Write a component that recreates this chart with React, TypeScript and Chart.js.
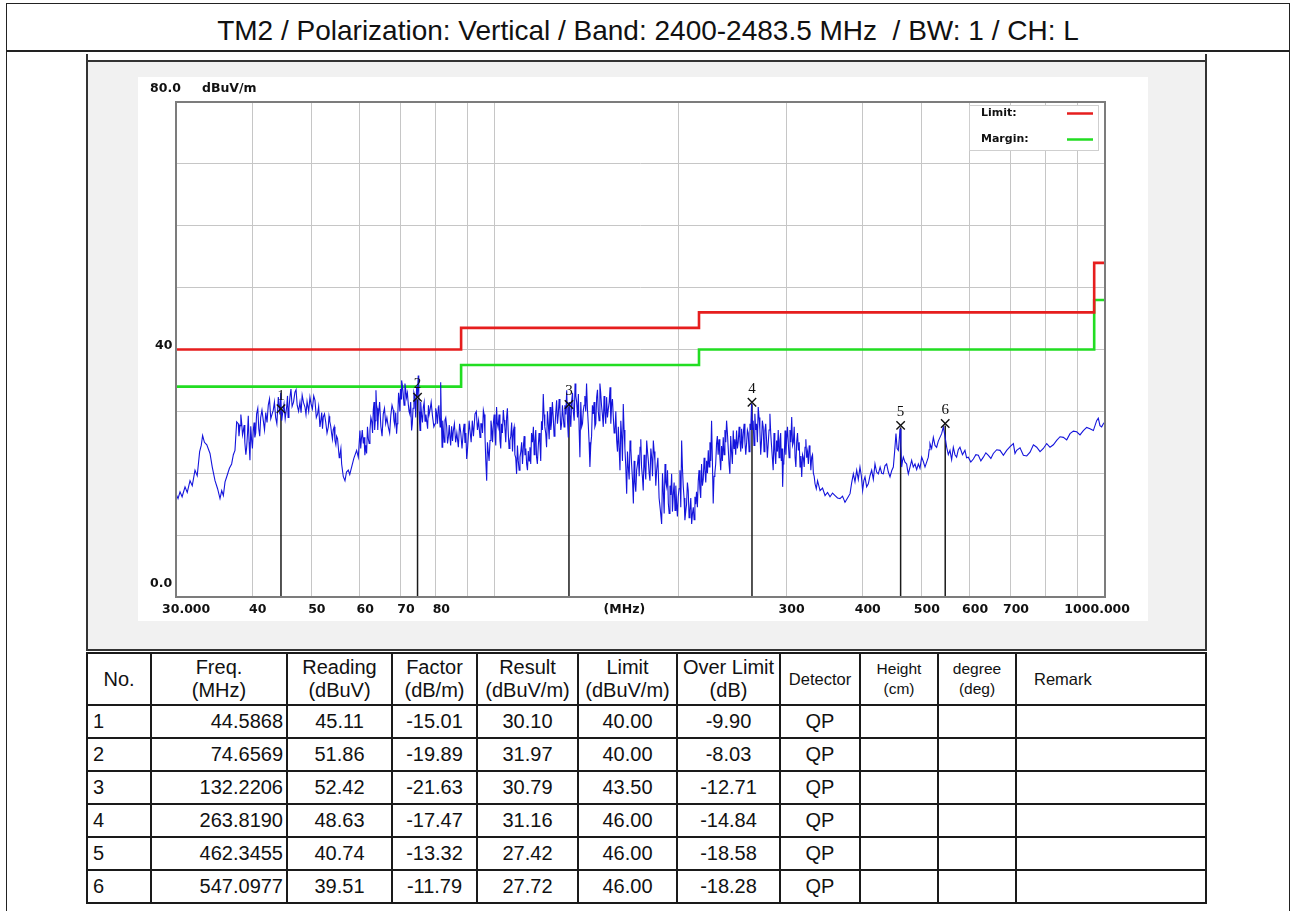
import React, { useEffect, useRef } from 'react';
import { Chart, registerables } from 'chart.js';

Chart.register(...registerables);

const TITLE = 'TM2 / Polarization: Vertical / Band: 2400-2483.5 MHz  / BW: 1 / CH: L';

const yUnit = 'dBuV/m';
const xUnit = '(MHz)';
const xUnitAt = 163;
const gridFreqs = [30, 40, 50, 60, 70, 80, 90, 100, 200, 300, 400, 500, 600, 700, 800, 900, 1000];
const xLabelFreqs = [30, 40, 50, 60, 70, 80, 300, 400, 500, 600, 700, 1000];
const xLabelTexts = ['30.000', '40', '50', '60', '70', '80', '300', '400', '500', '600', '700', '1000.000'];
const yLabelValues = [80, 40, 0];
const yLabelTexts = ['80.0', '40', '0.0'];

const limitFreqs = [30, 88, 216, 960, 1000];
const limitLevels = [40, 43.5, 46, 54, 54];
const marginLevels = [34, 37.5, 40, 48, 48];

// measured trace: [frequency MHz, level dBuV/m]
const trace: [number, number][] = [
  [30.0, 16.7], [30.23, 15.9], [30.46, 17.0], [30.7, 16.2], [31.04, 17.8], [31.3, 16.9], [31.63, 18.8], [31.9, 18.0],
  [32.23, 20.5], [32.5, 19.6], [32.8, 23.5], [33.0, 24.5], [33.17, 26.1], [33.4, 25.0], [33.7, 24.6], [34.11, 23.2],
  [34.4, 21.0], [34.76, 18.8], [35.1, 17.5], [35.42, 15.9], [35.65, 17.2], [35.87, 16.4], [36.1, 18.6], [36.32, 19.4],
  [36.7, 20.8], [37.01, 21.5], [37.25, 23.0], [37.48, 23.7], [37.72, 28.3], [37.95, 28.0], [38.2, 27.7], [38.45, 28.0],
  [38.68, 26.9], [38.9, 25.0], [39.17, 24.2], [39.41, 29.3], [39.66, 22.1], [39.9, 25.5], [40.16, 26.9], [40.4, 25.8],
  [40.67, 29.6], [41.0, 27.2], [41.3, 29.0], [41.71, 28.5], [42.1, 29.8], [42.5, 31.0], [42.9, 28.8], [43.31, 30.2],
  [43.7, 29.0], [44.14, 32.3], [44.4, 29.5], [44.7, 28.5], [45.1, 31.2], [45.55, 30.7], [45.8, 29.0], [46.12, 32.3],
  [46.5, 30.8], [47.0, 33.1], [47.4, 31.0], [47.9, 31.5], [48.3, 32.6], [48.81, 30.7], [49.2, 31.6], [49.74, 32.3],
  [50.2, 30.4], [50.69, 31.8], [51.2, 29.6], [51.65, 27.5], [52.0, 29.8], [52.31, 29.1], [52.8, 28.2], [53.31, 27.5],
  [53.6, 28.4], [53.98, 26.4], [54.3, 27.0], [54.66, 25.3], [55.0, 26.0], [55.36, 24.2], [55.7, 23.0], [56.06, 21.5],
  [56.4, 19.5], [56.77, 18.8], [57.1, 20.2], [57.48, 20.5], [57.8, 19.8], [58.21, 21.0], [58.7, 22.4], [59.32, 23.7],
  [59.7, 22.6], [60.07, 26.9], [60.4, 25.5], [60.83, 24.8], [61.2, 22.9], [61.6, 23.2], [62.0, 25.6], [62.38, 26.9],
  [62.8, 28.4], [63.17, 30.2], [63.5, 27.0], [63.81, 33.4], [64.1, 30.5], [64.37, 29.1], [65.0, 27.6], [65.6, 29.6],
  [66.2, 28.0], [66.85, 27.5], [67.5, 29.4], [68.12, 30.2], [68.5, 27.8], [68.98, 26.4], [69.3, 29.5], [69.68, 31.8],
  [70.0, 33.6], [70.3, 35.0], [70.7, 33.0], [71.19, 34.5], [71.6, 32.2], [72.09, 31.2], [72.5, 29.6], [73.0, 26.9],
  [73.4, 30.5], [73.92, 32.3], [74.4, 34.0], [74.86, 35.8], [75.1, 30.0], [75.36, 26.9], [75.8, 29.5], [76.31, 30.7],
  [76.8, 28.4], [77.28, 28.5], [77.8, 31.0], [78.26, 30.2], [79.0, 29.2], [79.75, 28.0], [80.2, 29.8], [80.75, 30.7],
  [81.1, 29.0], [81.47, 34.7], [81.9, 24.2], [82.3, 27.0], [82.8, 28.6], [83.34, 27.5], [83.9, 26.0], [84.39, 25.8],
  [84.9, 27.6], [85.46, 26.9], [86.2, 25.0], [87.09, 24.2], [87.9, 26.5], [88.75, 26.9], [89.3, 24.9], [89.87, 22.3],
  [90.4, 25.8], [91.01, 26.9], [91.8, 28.5], [92.74, 29.6], [93.6, 27.0], [94.51, 25.8], [95.1, 28.0], [95.71, 30.2],
  [96.3, 26.0], [96.92, 18.8], [97.5, 23.5], [98.15, 25.3], [98.8, 27.2], [99.39, 28.0], [100.0, 26.5], [100.6, 30.7],
  [101.2, 27.4], [101.9, 25.3], [102.5, 28.0], [103.2, 30.2], [103.8, 27.5], [104.5, 29.1], [105.1, 27.0], [105.8, 25.3],
  [106.5, 28.2], [107.2, 26.9], [107.8, 23.0], [108.5, 19.9], [109.2, 22.0], [109.9, 22.6], [110.6, 25.0], [111.3, 24.2],
  [112.0, 22.9], [112.7, 21.5], [113.4, 23.6], [114.1, 24.2], [114.8, 26.5], [115.6, 27.5], [116.3, 25.2], [117.0, 22.6],
  [117.7, 24.0], [118.5, 24.8], [119.2, 28.4], [120.0, 32.8], [120.7, 27.5], [121.5, 24.2], [122.3, 28.0], [123.1, 30.7],
  [123.8, 28.3], [124.6, 29.1], [125.4, 27.5], [126.2, 31.8], [127.0, 29.5], [127.8, 30.2], [128.6, 28.0], [129.4, 29.1],
  [130.2, 31.0], [131.1, 33.4], [131.5, 28.5], [131.9, 25.8], [132.7, 29.5], [133.6, 31.8], [134.4, 30.0], [135.3, 34.5],
  [136.1, 31.5], [137.0, 32.8], [137.4, 27.0], [137.8, 22.6], [138.7, 27.5], [139.6, 30.2], [140.4, 32.5], [141.3, 34.5],
  [142.2, 28.0], [143.1, 21.0], [144.0, 26.0], [144.9, 29.6], [145.8, 27.5], [146.8, 32.3], [147.7, 30.0], [148.6, 34.5],
  [149.5, 31.0], [150.5, 27.5], [151.4, 30.0], [152.4, 32.3], [153.4, 30.4], [154.4, 33.9], [155.3, 31.0], [156.3, 29.1],
  [157.3, 27.0], [158.3, 25.3], [159.3, 27.5], [160.3, 20.5], [161.3, 26.0], [162.3, 31.2], [163.3, 24.0], [164.4, 16.7],
  [165.4, 21.0], [166.5, 25.3], [167.5, 21.4], [168.6, 15.1], [169.6, 18.5], [170.7, 20.5], [171.8, 23.0], [172.9, 24.2],
  [173.9, 21.0], [175.0, 17.2], [176.1, 21.0], [177.3, 25.3], [178.4, 22.0], [179.5, 18.8], [180.7, 22.5], [181.8, 25.3],
  [182.9, 22.0], [184.1, 20.5], [185.8, 16.0], [187.6, 11.8], [188.8, 17.0], [190.0, 21.5], [191.2, 17.8], [192.4, 15.1],
  [193.6, 18.0], [194.8, 19.9], [196.0, 16.5], [197.3, 14.0], [198.5, 15.2], [199.7, 16.2], [201.0, 20.5], [202.3, 25.3],
  [203.5, 18.0], [204.8, 12.4], [206.1, 15.0], [207.4, 17.2], [208.7, 14.0], [210.1, 11.8], [211.4, 14.5], [212.7, 16.2],
  [214.0, 17.0], [215.4, 18.8], [216.7, 17.5], [218.1, 21.5], [219.5, 19.0], [220.9, 20.5], [222.3, 22.0], [223.7, 23.7],
  [225.1, 25.0], [226.5, 28.5], [227.2, 22.0], [227.9, 15.1], [229.3, 20.0], [230.8, 24.8], [232.2, 23.0], [233.7, 22.6],
  [235.2, 24.4], [236.7, 25.8], [238.2, 27.0], [239.7, 28.5], [241.2, 24.0], [242.7, 19.9], [244.2, 23.5], [245.8, 26.9],
  [247.3, 25.5], [248.9, 26.9], [250.5, 25.0], [252.1, 25.3], [253.7, 27.2], [255.3, 26.4], [256.9, 25.0], [258.5, 24.8],
  [260.1, 26.5], [261.8, 28.0], [262.6, 27.0], [263.4, 31.2], [265.0, 28.5], [266.7, 29.6], [268.4, 28.0], [270.1, 30.7],
  [271.8, 27.0], [273.5, 25.3], [275.2, 27.5], [277.0, 26.9], [278.7, 25.5], [280.5, 24.8], [281.4, 27.0], [282.3, 29.6],
  [284.0, 24.5], [285.8, 20.5], [287.6, 23.5], [289.5, 25.3], [291.3, 27.0], [293.1, 25.3], [294.7, 22.0], [296.2, 17.8],
  [297.5, 22.0], [298.9, 26.9], [300.7, 25.5], [302.6, 24.8], [304.5, 27.0], [306.5, 29.1], [308.4, 25.0], [310.4, 22.6],
  [312.3, 25.0], [314.3, 23.7], [316.3, 21.0], [318.3, 19.4], [320.3, 22.5], [322.3, 24.2], [324.3, 22.5], [326.4, 21.5],
  [328.4, 23.5], [330.5, 22.6], [332.6, 20.0], [334.7, 18.3], [337.9, 18.8], [341.1, 17.2], [344.3, 17.6], [347.6, 16.4],
  [350.9, 16.9], [354.2, 16.2], [357.6, 16.8], [361.0, 16.4], [364.4, 16.0], [367.8, 15.9], [371.3, 16.3], [374.8, 15.3],
  [378.4, 16.0], [382.0, 16.7], [384.4, 18.5], [386.8, 19.9], [389.2, 18.6], [391.7, 20.5], [394.1, 19.0], [396.6, 21.0],
  [398.6, 19.6], [400.6, 17.2], [402.4, 18.8], [404.2, 19.4], [406.7, 17.8], [409.3, 18.3], [411.9, 19.6], [414.5, 20.5],
  [417.1, 19.0], [419.7, 21.5], [422.3, 20.2], [425.0, 19.9], [427.9, 21.0], [430.5, 20.0], [433.1, 19.9], [435.8, 21.2],
  [438.6, 21.5], [441.4, 20.2], [444.2, 19.4], [447.0, 20.4], [449.8, 21.0], [452.0, 23.5], [454.3, 26.4], [456.3, 24.0],
  [458.4, 23.7], [460.0, 25.5], [461.3, 27.2], [462.8, 24.5], [464.2, 21.0], [465.6, 22.0], [467.1, 22.6], [470.0, 21.8],
  [473.0, 21.5], [474.5, 20.6], [476.0, 19.9], [479.0, 21.0], [482.0, 22.1], [485.0, 21.0], [488.1, 21.5], [491.2, 20.6],
  [494.3, 21.5], [497.4, 20.8], [500.6, 22.6], [503.7, 21.9], [506.9, 21.0], [510.1, 21.8], [513.3, 22.6], [514.9, 23.8],
  [516.5, 24.8], [519.8, 24.0], [523.1, 25.8], [526.4, 24.5], [529.7, 24.2], [533.0, 25.2], [536.4, 25.8], [539.8, 26.4],
  [543.2, 27.5], [546.6, 26.0], [550.1, 24.2], [553.5, 23.0], [557.0, 23.7], [560.5, 22.2], [564.1, 24.2], [567.6, 23.0],
  [571.2, 22.6], [574.8, 23.8], [578.4, 24.2], [583.9, 23.0], [589.4, 23.7], [593.1, 22.5], [596.9, 22.6], [602.6, 21.8],
  [608.4, 22.3], [614.2, 23.0], [620.0, 22.9], [625.9, 22.0], [631.8, 22.6], [637.8, 23.3], [643.9, 22.9], [650.0, 22.4],
  [656.1, 23.2], [664.5, 23.8], [672.9, 23.7], [681.4, 22.9], [690.0, 23.7], [698.8, 24.3], [707.6, 24.8], [712.0, 23.2],
  [716.5, 23.7], [725.6, 24.1], [734.8, 22.9], [744.2, 22.8], [753.6, 23.4], [763.2, 24.6], [772.8, 24.2], [782.6, 23.5],
  [792.4, 24.0], [802.5, 24.8], [812.6, 24.2], [822.9, 24.6], [833.3, 25.3], [843.9, 25.9], [854.6, 25.8], [865.4, 25.4],
  [876.3, 26.4], [887.4, 26.8], [898.6, 26.7], [910.0, 26.2], [921.5, 26.9], [933.2, 27.4], [944.9, 27.2], [957.0, 26.9],
  [969.0, 28.5], [975.0, 28.9], [981.2, 27.7], [987.5, 27.5], [993.7, 28.0], [1000.0, 28.3],
];

// additional readings in the densely modulated part of the sweep
const traceDense: [number, number][] = [
  [38.05, 26.0], [38.32, 29.5], [38.56, 26.2], [38.8, 27.8], [39.05, 23.0], [39.3, 26.5], [39.53, 25.0], [39.78, 27.6],
  [40.03, 24.0], [40.28, 28.2], [40.53, 26.5], [40.85, 30.5], [41.15, 26.0], [41.5, 30.2], [41.9, 27.0], [42.3, 28.2],
  [42.7, 32.0], [43.1, 29.5], [43.5, 31.5], [43.9, 28.0], [44.27, 31.0], [44.55, 33.0], [44.9, 30.0], [45.3, 28.8],
  [45.7, 32.5], [45.95, 30.5], [46.3, 33.6], [46.75, 31.5], [47.2, 33.5], [47.65, 30.0], [48.1, 29.8], [48.55, 31.4],
  [49.0, 29.5], [49.5, 30.0], [49.95, 31.2], [50.45, 32.5], [50.95, 29.0], [51.4, 30.8], [51.8, 28.4], [52.15, 27.2],
  [52.55, 29.6], [53.05, 26.5], [53.45, 29.2], [53.8, 27.6], [54.15, 25.5], [54.5, 27.5], [54.85, 24.6], [55.2, 25.6],
  [55.55, 22.5], [55.9, 24.0], [60.25, 24.0], [60.6, 27.0], [61.0, 25.8], [61.4, 24.5], [61.8, 27.5], [62.2, 24.8],
  [62.6, 29.0], [63.0, 26.5], [63.35, 31.5], [63.65, 28.5], [63.95, 31.0], [64.25, 27.0], [64.7, 31.5], [65.3, 26.0],
  [65.9, 30.5], [66.5, 29.0], [67.2, 26.5], [67.8, 31.0], [68.3, 28.5], [68.75, 29.8], [69.15, 28.0], [69.5, 33.0],
  [69.85, 30.0], [70.15, 32.0], [70.5, 34.2], [70.95, 31.0], [71.4, 33.5], [71.85, 33.0], [72.3, 30.0], [72.75, 31.5],
  [73.2, 28.0], [73.65, 33.0], [74.15, 29.0], [74.6, 32.5], [75.0, 33.0], [75.25, 28.0], [75.55, 31.5], [76.05, 28.2],
  [76.55, 31.5], [77.05, 29.5], [77.55, 27.2], [78.0, 29.5], [78.6, 31.5], [79.4, 27.5], [79.95, 30.5], [80.5, 28.0],
  [80.9, 31.0], [81.3, 27.5], [81.65, 29.5], [82.1, 28.5], [82.55, 25.0], [83.05, 29.0], [83.6, 24.8], [84.15, 27.8],
  [84.6, 24.5], [85.2, 25.2], [85.8, 28.0], [86.6, 26.5], [87.5, 28.0], [88.3, 24.0], [89.0, 28.0], [89.6, 26.5],
  [90.1, 23.5], [90.7, 28.5], [91.4, 25.0], [92.2, 26.0], [93.2, 30.0], [94.0, 28.5], [94.8, 28.0], [95.4, 26.5],
  [96.0, 29.5], [96.6, 22.0], [97.2, 25.0], [97.8, 22.0], [98.5, 28.5], [99.1, 25.0], [99.7, 29.5], [100.3, 24.5],
  [100.9, 28.0], [101.55, 29.5], [102.2, 24.0], [102.85, 26.5], [103.5, 28.6], [104.15, 25.0], [104.8, 30.5], [105.45, 24.0],
  [106.15, 26.0], [106.85, 23.5], [107.5, 27.5], [108.15, 22.5], [108.85, 24.5], [109.55, 20.5], [110.25, 23.5], [110.95, 21.5],
  [111.65, 26.0], [112.35, 24.0], [113.05, 20.5], [113.75, 22.0], [114.45, 21.5], [115.2, 25.0], [115.95, 23.0], [116.65, 27.0],
  [117.35, 21.5], [118.1, 26.5], [118.85, 22.0], [119.6, 27.0], [120.35, 29.5], [121.1, 26.5], [121.9, 30.0], [122.7, 25.5],
  [123.45, 27.0], [124.2, 31.5], [125.0, 26.0], [125.8, 29.8], [126.6, 28.0], [127.4, 32.0], [128.2, 27.0], [129.0, 31.0],
  [129.8, 27.5], [130.65, 29.5], [132.3, 31.5], [133.15, 27.5], [134.0, 33.0], [134.85, 28.5], [135.7, 32.5], [136.55, 29.0],
  [138.25, 31.5], [139.15, 28.0], [140.0, 31.0], [140.85, 30.0], [141.75, 30.5], [142.65, 25.0], [143.55, 24.5], [144.45, 31.0],
  [145.35, 31.5], [146.3, 28.0], [147.25, 33.5], [148.15, 28.5], [149.05, 33.0], [150.0, 29.5], [150.95, 32.5], [151.9, 28.0],
  [152.9, 29.0], [153.9, 31.5], [154.85, 28.0], [155.8, 32.0], [156.8, 26.5], [157.8, 30.0], [158.8, 23.5], [159.8, 24.0],
  [160.8, 28.5], [161.8, 22.0], [162.8, 27.0], [163.85, 21.0], [164.9, 23.5], [165.95, 19.0], [167.0, 24.0], [168.05, 19.0],
  [169.1, 22.0], [170.15, 17.0], [171.25, 21.5], [172.35, 19.5], [173.4, 25.5], [174.45, 19.5], [175.55, 23.0], [176.7, 19.0],
  [177.85, 23.5], [178.95, 20.0], [180.1, 24.0], [181.25, 19.5], [182.35, 23.5], [183.5, 18.0], [184.95, 22.5], [186.7, 14.0],
  [188.2, 20.0], [189.4, 13.5], [190.6, 18.5], [191.8, 20.5], [193.0, 13.5], [194.2, 16.5], [195.4, 13.8], [196.65, 18.5],
  [197.9, 18.0], [199.1, 13.0], [200.35, 17.5], [201.65, 14.5], [202.9, 21.0], [204.15, 16.0], [205.45, 13.8], [206.75, 18.5],
  [208.05, 12.8], [209.4, 16.0], [210.75, 13.5], [212.05, 12.5], [213.35, 15.0], [214.7, 14.5], [216.05, 20.5], [217.4, 16.0],
  [218.8, 18.0], [220.2, 22.5], [221.6, 18.5], [223.0, 20.0], [224.4, 21.0], [225.8, 22.0], [228.6, 19.5], [230.05, 21.5],
  [231.5, 26.0], [232.95, 25.5], [234.45, 20.5], [235.95, 22.0], [237.45, 23.0], [238.95, 25.0], [240.45, 26.5], [241.95, 21.5],
  [243.45, 26.0], [245.0, 21.5], [246.55, 24.0], [248.1, 23.0], [249.7, 24.0], [251.3, 27.5], [252.9, 23.5], [254.5, 24.0],
  [256.1, 28.0], [257.7, 23.0], [259.3, 27.0], [260.95, 23.5], [264.2, 27.0], [265.85, 24.5], [267.55, 27.0], [269.25, 25.0],
  [270.95, 29.0], [272.65, 23.0], [274.35, 28.5], [276.1, 23.5], [277.85, 28.0], [279.6, 22.5], [283.15, 26.5], [284.9, 22.5],
  [286.7, 26.5], [288.55, 21.5], [290.4, 23.5], [292.2, 22.5], [294.0, 26.5], [295.5, 24.0], [296.85, 21.5], [298.2, 23.5],
  [299.8, 23.0], [301.65, 27.5], [303.55, 22.5], [305.5, 25.0], [307.45, 24.5], [309.4, 27.5], [311.35, 21.0], [313.3, 26.5],
  [315.3, 25.0], [317.3, 22.8], [319.3, 23.0], [321.3, 21.0], [323.3, 25.5], [325.35, 23.5], [327.4, 24.5], [329.45, 20.5],
  [331.55, 23.0], [333.65, 19.5], [336.3, 17.5], [339.5, 18.0],
];

const markerNo = ['1', '2', '3', '4', '5', '6'];
const markerFreq = [44.5868, 74.6569, 132.2206, 263.819, 462.3455, 547.0977];
const markerResult = [30.1, 31.97, 30.79, 31.16, 27.42, 27.72];

const colReading = ['45.11', '51.86', '52.42', '48.63', '40.74', '39.51'];
const colFactor = ['-15.01', '-19.89', '-21.63', '-17.47', '-13.32', '-11.79'];
const colLimit = ['40.00', '40.00', '43.50', '46.00', '46.00', '46.00'];
const colOver = ['-9.90', '-8.03', '-12.71', '-14.84', '-18.58', '-18.28'];
const colDetector = ['QP', 'QP', 'QP', 'QP', 'QP', 'QP'];

const colWidths = [64, 136, 105, 85, 101, 99, 103, 80, 78, 78, 190];

const overlay = {
  id: 'overlay',
  beforeDatasetsDraw(chart: any) {
    const { ctx, chartArea: a, scales } = chart;
    const x = scales.x;
    const y = scales.y;
    ctx.save();
    ctx.strokeStyle = '#1a1a1a';
    ctx.lineWidth = 1.5;
    markerFreq.forEach((f, i) => {
      const px = x.getPixelForValue(f);
      ctx.beginPath();
      ctx.moveTo(px, y.getPixelForValue(markerResult[i]));
      ctx.lineTo(px, a.bottom);
      ctx.stroke();
    });
    ctx.restore();
  },
  afterDatasetsDraw(chart: any) {
    const { ctx, chartArea: a, scales } = chart;
    const x = scales.x;
    const y = scales.y;
    ctx.save();
    ctx.strokeStyle = '#7c7c7c';
    ctx.lineWidth = 2;
    ctx.strokeRect(a.left, a.top, a.right - a.left, a.bottom - a.top);

    ctx.strokeStyle = '#111';
    ctx.fillStyle = '#111';
    ctx.lineWidth = 1.4;
    ctx.font = '15px "Liberation Serif"';
    ctx.textAlign = 'center';
    ctx.textBaseline = 'middle';
    markerFreq.forEach((f, i) => {
      const px = x.getPixelForValue(f);
      const py = y.getPixelForValue(markerResult[i]) - 2;
      const h = 4.2;
      ctx.beginPath();
      ctx.moveTo(px - h, py - h);
      ctx.lineTo(px + h, py + h);
      ctx.moveTo(px + h, py - h);
      ctx.lineTo(px - h, py + h);
      ctx.stroke();
      ctx.fillText(markerNo[i], px, py - 13);
    });

    const ds = chart.data.datasets;
    const lw = 129;
    const lh = 45;
    const lx = a.right - 136;
    const ly = a.top + 3;
    ctx.fillStyle = '#ffffff';
    ctx.fillRect(lx, ly, lw, lh);
    ctx.strokeStyle = '#cfcfcf';
    ctx.lineWidth = 1;
    ctx.strokeRect(lx + 0.5, ly + 0.5, lw, lh);
    ctx.font = 'bold 11px "DejaVu Sans"';
    ctx.textAlign = 'left';
    [1, 2].forEach((di, k) => {
      const yy = ly + 8.5 + k * 26;
      ctx.fillStyle = '#111';
      ctx.fillText(ds[di].label + ':', lx + 12, yy);
      ctx.strokeStyle = ds[di].borderColor;
      ctx.lineWidth = 2.5;
      ctx.beginPath();
      ctx.moveTo(lx + 98, yy);
      ctx.lineTo(lx + 124, yy);
      ctx.stroke();
    });

    ctx.font = 'bold 12.5px "DejaVu Sans"';
    ctx.fillStyle = '#111';
    ctx.textBaseline = 'middle';
    const ty = a.bottom + 12.5;
    xLabelFreqs.forEach((f, i) => {
      const px = x.getPixelForValue(f);
      const t = xLabelTexts[i];
      if (i === 0) {
        ctx.textAlign = 'left';
        ctx.fillText(t, px - 14, ty);
      } else if (i === xLabelFreqs.length - 1) {
        ctx.textAlign = 'right';
        ctx.fillText(t, px + 25, ty);
      } else {
        ctx.textAlign = 'center';
        ctx.fillText(t, px + 5.5, ty);
      }
    });
    ctx.textAlign = 'center';
    ctx.fillText(xUnit, x.getPixelForValue(xUnitAt), ty);

    ctx.textAlign = 'left';
    yLabelValues.forEach((v, i) => {
      const py = y.getPixelForValue(v);
      if (v === 40) ctx.fillText(yLabelTexts[i], a.left - 21, py - 4);
      else ctx.fillText(yLabelTexts[i], a.left - 26, py - 13.5);
    });
    ctx.fillText(yUnit, a.left + 26, a.top - 13.5);
    ctx.restore();
  },
};

const cellBorder = '2px solid #1a1a1a';
const thBase: React.CSSProperties = {
  border: cellBorder,
  padding: 0,
  fontWeight: 'normal',
  fontSize: 20,
  lineHeight: '23px',
  textAlign: 'center',
  verticalAlign: 'middle',
};
const tdBase: React.CSSProperties = {
  border: cellBorder,
  padding: 0,
  fontSize: 20,
  textAlign: 'center',
  verticalAlign: 'middle',
  height: 31,
};

export default function App() {
  const ref = useRef<HTMLCanvasElement>(null);

  useEffect(() => {
    const c = ref.current;
    if (!c) return;
    const sweep = [...trace, ...traceDense].sort((p, q) => p[0] - q[0]);
    const chart = new Chart(c, {
      type: 'line',
      data: {
        datasets: [
          {
            label: 'Trace',
            data: sweep.map(([f, v]) => ({ x: f, y: v })),
            borderColor: '#1414dc',
            borderWidth: 1.1,
            pointRadius: 0,
            tension: 0,
            order: 0,
          },
          {
            label: 'Limit',
            data: limitFreqs.map((f, i) => ({ x: f, y: limitLevels[i] })),
            borderColor: '#e61e1e',
            borderWidth: 2.6,
            pointRadius: 0,
            stepped: 'before',
            order: 1,
          },
          {
            label: 'Margin',
            data: limitFreqs.map((f, i) => ({ x: f, y: marginLevels[i] })),
            borderColor: '#22dd22',
            borderWidth: 2.6,
            pointRadius: 0,
            stepped: 'before',
            order: 2,
          },
        ],
      } as any,
      options: {
        animation: false,
        responsive: false,
        maintainAspectRatio: false,
        layout: { padding: { left: 38, right: 43, top: 25, bottom: 24 } },
        plugins: { legend: { display: false }, tooltip: { enabled: false } },
        scales: {
          x: {
            type: 'logarithmic',
            min: 30,
            max: 1000,
            afterBuildTicks: (s: any) => {
              s.ticks = gridFreqs.map((v) => ({ value: v }));
            },
            ticks: { display: false },
            grid: { color: '#c6c6c6', lineWidth: 1, drawTicks: false, tickLength: 0 },
            border: { display: false },
          },
          y: {
            type: 'linear',
            min: 0,
            max: 80,
            ticks: { display: false, stepSize: 10 },
            grid: { color: '#c6c6c6', lineWidth: 1, drawTicks: false, tickLength: 0 },
            border: { display: false },
          },
        },
      } as any,
      plugins: [overlay],
    });
    return () => chart.destroy();
  }, []);

  return (
    <div
      style={{
        position: 'absolute',
        left: 0,
        top: 0,
        width: 1293,
        height: 911,
        overflow: 'hidden',
        background: '#fff',
        fontFamily: '"Liberation Sans", Arial, sans-serif',
        color: '#111',
      }}
    >
      <div
        style={{
          position: 'absolute',
          left: 6,
          top: 3,
          width: 1284,
          height: 960,
          border: '1.5px solid #222',
          boxSizing: 'border-box',
        }}
      />
      <div style={{ position: 'absolute', left: 6, top: 50, width: 1284, height: 2, background: '#222' }} />
      <div
        style={{
          position: 'absolute',
          left: 6,
          top: 8,
          width: 1284,
          height: 46,
          display: 'flex',
          alignItems: 'center',
          justifyContent: 'center',
          fontSize: 28,
          whiteSpace: 'pre',
        }}
      >
        {TITLE}
      </div>

      <div
        style={{
          position: 'absolute',
          left: 86,
          top: 60,
          width: 1121,
          height: 591,
          background: '#f1f1f1',
          borderTop: '2.5px solid #333',
          borderLeft: '2px solid #333',
          borderRight: '2px solid #333',
          borderBottom: '2px solid #333',
          boxSizing: 'border-box',
        }}
      />
      <div style={{ position: 'absolute', left: 86, top: 54, width: 2, height: 7, background: '#333' }} />
      <div style={{ position: 'absolute', left: 1205, top: 54, width: 2, height: 7, background: '#333' }} />

      <canvas
        ref={ref}
        width={1010}
        height={544}
        style={{ position: 'absolute', left: 138, top: 77, width: 1010, height: 544, background: '#fff' }}
      />

      <table
        style={{
          position: 'absolute',
          left: 86,
          top: 652,
          width: 1121,
          borderCollapse: 'collapse',
          tableLayout: 'fixed',
          background: '#fff',
        }}
      >
        <colgroup>
          {colWidths.map((w, i) => (
            <col key={i} style={{ width: w }} />
          ))}
        </colgroup>
        <thead>
          <tr style={{ height: 52 }}>
            <th style={thBase}>No.</th>
            <th style={thBase}>Freq.<br />(MHz)</th>
            <th style={thBase}>Reading<br />(dBuV)</th>
            <th style={thBase}>Factor<br />(dB/m)</th>
            <th style={thBase}>Result<br />(dBuV/m)</th>
            <th style={thBase}>Limit<br />(dBuV/m)</th>
            <th style={thBase}>Over Limit<br />(dB)</th>
            <th style={{ ...thBase, fontSize: 16.5 }}>Detector</th>
            <th style={{ ...thBase, fontSize: 15.5, lineHeight: '20px' }}>Height<br />(cm)</th>
            <th style={{ ...thBase, fontSize: 15.5, lineHeight: '20px' }}>degree<br />(deg)</th>
            <th style={{ ...thBase, fontSize: 16.5, textAlign: 'left', paddingLeft: 17 }}>Remark</th>
          </tr>
        </thead>
        <tbody>
          {markerNo.map((n, i) => (
            <tr key={n} style={{ height: 33 }}>
              <td style={{ ...tdBase, textAlign: 'left', paddingLeft: 5 }}>{n}</td>
              <td style={{ ...tdBase, textAlign: 'right', paddingRight: 3 }}>{markerFreq[i].toFixed(4)}</td>
              <td style={tdBase}>{colReading[i]}</td>
              <td style={tdBase}>{colFactor[i]}</td>
              <td style={tdBase}>{markerResult[i].toFixed(2)}</td>
              <td style={tdBase}>{colLimit[i]}</td>
              <td style={tdBase}>{colOver[i]}</td>
              <td style={tdBase}>{colDetector[i]}</td>
              <td style={tdBase}></td>
              <td style={tdBase}></td>
              <td style={tdBase}></td>
            </tr>
          ))}
        </tbody>
      </table>
    </div>
  );
}
